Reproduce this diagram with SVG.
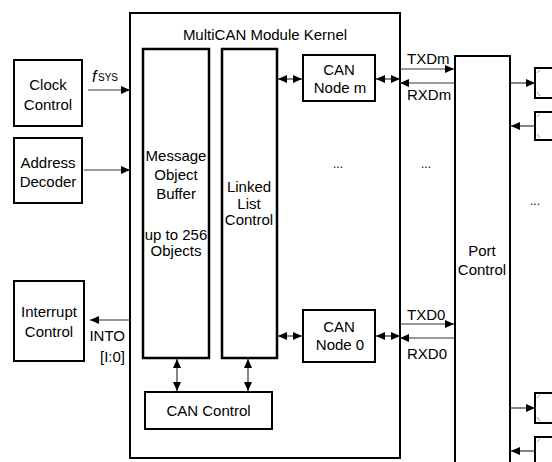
<svg xmlns="http://www.w3.org/2000/svg" width="552" height="462" viewBox="0 0 552 462">
<style>
.box{fill:#fff;stroke:#000;stroke-width:2}
.thick{fill:#fff;stroke:#000;stroke-width:2.5}
.t{font-family:"Liberation Sans",Arial,sans-serif;font-size:15px;fill:#000;text-anchor:middle}
.ts{font-family:"Liberation Sans",Arial,sans-serif;font-size:15px;fill:#000}
.sub{font-family:"Liberation Sans",Arial,sans-serif;font-size:10px;fill:#000}
.it{font-family:"Liberation Sans",Arial,sans-serif;font-size:16px;font-style:italic;fill:#000}
.dots{font-family:"Liberation Sans",Arial,sans-serif;font-size:12px;fill:#000;text-anchor:middle}
.ca{fill:none;stroke:#333;stroke-width:1.2;marker-end:url(#ah)}
.cd{fill:none;stroke:#333;stroke-width:1.2;marker-end:url(#ah);marker-start:url(#ah)}
.diag{stroke:#999;stroke-width:1;fill:none}
</style>
<defs>
<marker id="ah" viewBox="0 0 9 8" refX="9" refY="4" markerWidth="9" markerHeight="8" markerUnits="userSpaceOnUse" orient="auto-start-reverse">
<path d="M0,0 L9,4 L0,8 z" fill="#000"/>
</marker>
</defs>
<rect width="552" height="462" fill="#fff"/>

<g id="kernel">
<rect class="box" x="130" y="13" width="270" height="445"/>
<text class="t" x="265" y="40">MultiCAN Module Kernel</text>
</g>

<g id="clock">
<rect class="box" x="14" y="60" width="68" height="66"/>
<text class="t" x="48" y="90">Clock</text>
<text class="t" x="48" y="110">Control</text>
</g>

<g id="address">
<rect class="box" x="14" y="138" width="68" height="65"/>
<text class="t" x="48" y="168">Address</text>
<text class="t" x="48" y="187">Decoder</text>
</g>

<g id="interrupt">
<rect class="box" x="14" y="281" width="70" height="80"/>
<text class="t" x="49" y="317">Interrupt</text>
<text class="t" x="49" y="337">Control</text>
</g>

<g id="mob">
<rect class="thick" x="143" y="49" width="66" height="309"/>
<text class="t" x="176" y="161">Message</text>
<text class="t" x="176" y="180">Object</text>
<text class="t" x="176" y="199">Buffer</text>
<text class="t" x="176" y="240">up to 256</text>
<text class="t" x="176" y="256">Objects</text>
</g>

<g id="llc">
<rect class="thick" x="222" y="49" width="55" height="309"/>
<text class="t" x="249" y="192">Linked</text>
<text class="t" x="249" y="209">List</text>
<text class="t" x="249" y="225">Control</text>
</g>

<g id="cancontrol">
<rect class="box" x="145" y="392" width="127" height="37"/>
<text class="t" x="208.5" y="416">CAN Control</text>
</g>

<g id="nodem">
<rect class="box" x="303" y="55" width="72" height="46"/>
<text class="t" x="339" y="75">CAN</text>
<text class="t" x="340" y="93">Node m</text>
</g>

<g id="node0">
<rect class="box" x="303" y="310" width="72" height="52"/>
<text class="t" x="339" y="332">CAN</text>
<text class="t" x="340" y="350">Node 0</text>
</g>

<g id="port">
<rect class="box" x="455" y="56" width="55" height="410"/>
<text class="t" x="482" y="256">Port</text>
<text class="t" x="482" y="275">Control</text>
</g>

<g id="pads">
<rect class="box" x="535" y="68" width="30" height="30"/>
<path class="diag" d="M537,73 L540,70 M537,92 L540,96"/>
<rect class="box" x="535" y="112" width="30" height="28"/>
<path class="diag" d="M537,117 L540,114 M537,134 L540,138"/>
<rect class="box" x="535" y="393" width="30" height="30"/>
<path class="diag" d="M537,398 L540,395 M537,417 L540,421"/>
<rect class="box" x="535" y="437" width="30" height="30"/>
<path class="diag" d="M537,442 L540,439"/>
</g>

<g id="connectors">
<line class="ca" x1="88" y1="90" x2="130" y2="90"/>
<line class="ca" x1="84" y1="170" x2="130" y2="170"/>
<line class="ca" x1="130" y1="320" x2="90" y2="320"/>
<line class="cd" x1="177" y1="359" x2="177" y2="391"/>
<line class="cd" x1="248" y1="359" x2="248" y2="391"/>
<line class="cd" x1="278" y1="79" x2="302" y2="79"/>
<line class="cd" x1="376" y1="79" x2="400" y2="79"/>
<line class="cd" x1="278" y1="336" x2="302" y2="336"/>
<line class="cd" x1="376" y1="336" x2="400" y2="336"/>
<line class="ca" x1="400" y1="69" x2="454" y2="69"/>
<line class="ca" x1="454" y1="83" x2="400" y2="83"/>
<line class="ca" x1="400" y1="324" x2="454" y2="324"/>
<line class="ca" x1="454" y1="338" x2="400" y2="338"/>
<line class="ca" x1="511" y1="83" x2="535" y2="83"/>
<line class="ca" x1="535" y1="126" x2="511" y2="126"/>
<line class="ca" x1="511" y1="408" x2="535" y2="408"/>
<line class="ca" x1="535" y1="451" x2="511" y2="451"/>
</g>

<g id="labels">
<text class="it" x="92" y="82">f</text>
<text class="sub" x="98" y="81">SYS</text>
<text class="ts" x="125" y="341" text-anchor="end">INTO</text>
<text class="ts" x="125" y="362" text-anchor="end">[I:0]</text>
<text class="ts" x="407" y="64">TXDm</text>
<text class="ts" x="407" y="100">RXDm</text>
<text class="ts" x="407" y="320">TXD0</text>
<text class="ts" x="407" y="359">RXD0</text>
<text class="dots" x="338" y="168">...</text>
<text class="dots" x="426" y="168">...</text>
<text class="dots" x="535" y="205">...</text>
</g>
</svg>
